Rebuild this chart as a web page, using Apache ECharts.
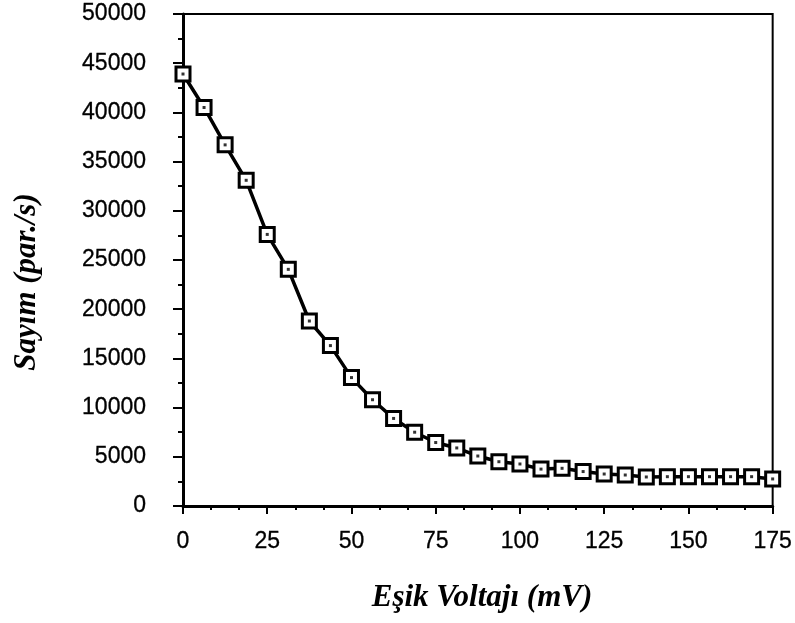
<!DOCTYPE html>
<html>
<head>
<meta charset="utf-8">
<script src="https://cdn.jsdelivr.net/npm/echarts@6/dist/echarts.min.js"></script>
<style>
  html, body { margin: 0; padding: 0; background: #fff; }
  #chart { width: 795px; height: 623px; }
</style>
</head>
<body>
<div id="chart"></div>
<script>
// Eşik voltajı (mV), 6.25 mV adımlarla
var voltages = [0, 6.25, 12.5, 18.75, 25, 31.25, 37.5, 43.75, 50, 56.25,
  62.5, 68.75, 75, 81.25, 87.5, 93.75, 100, 106.25, 112.5, 118.75,
  125, 131.25, 137.5, 143.75, 150, 156.25, 162.5, 168.75, 175]
// Sayım (par./s)
var counts = [43900, 40500, 36700, 33100, 27600, 24050, 18800, 16300, 13050, 10800,
  8900, 7500, 6450, 5900, 5080, 4500, 4270, 3750, 3830, 3500,
  3250, 3150, 2950, 2980, 2980, 2980, 2980, 2980, 2750]

var xTicks = [0, 25, 50, 75, 100, 125, 150, 175]
var yTicks = [0, 5000, 10000, 15000, 20000, 25000, 30000, 35000, 40000, 45000, 50000]

var points = voltages.map(function (v, i) { return [v, counts[i]] })

var labelStyle = {
  color: '#000',
  fontFamily: 'Liberation Sans',
  fontSize: 23,
  textBorderColor: '#000',
  textBorderWidth: 0.3
}

var chart = echarts.init(document.getElementById('chart'))

chart.setOption({
  animation: false,
  grid: {
    left: 183,
    right: 22,
    top: 14,
    bottom: 117,
    show: true,
    borderColor: '#000',
    borderWidth: 2
  },
  xAxis: {
    type: 'value',
    min: xTicks[0],
    max: xTicks[xTicks.length - 1],
    interval: 25,
    axisLine: { lineStyle: { color: '#000', width: 3 } },
    axisTick: { length: 8, lineStyle: { color: '#000', width: 2 } },
    minorTick: { show: true, splitNumber: 3, length: 4, lineStyle: { color: '#000', width: 2 } },
    splitLine: { show: false },
    axisLabel: Object.assign({ margin: 24, formatter: function (v) { return String(v) } }, labelStyle)
  },
  yAxis: {
    type: 'value',
    min: yTicks[0],
    max: yTicks[yTicks.length - 1],
    interval: 5000,
    axisLine: { show: true, lineStyle: { color: '#000', width: 3 } },
    axisTick: { show: true, length: 10, lineStyle: { color: '#000', width: 2 } },
    minorTick: { show: true, splitNumber: 2, length: 5, lineStyle: { color: '#000', width: 2 } },
    splitLine: { show: false },
    axisLabel: Object.assign({ margin: 37, formatter: function (v) { return String(v) } }, labelStyle)
  },
  graphic: [
    {
      type: 'text',
      x: 482,
      y: 598,
      style: {
        text: 'Eşik Voltajı (mV)',
        font: 'italic bold 31px "Liberation Serif"',
        fill: '#000',
        textAlign: 'center',
        textVerticalAlign: 'middle'
      }
    },
    {
      type: 'text',
      x: 27,
      y: 282,
      rotation: Math.PI / 2,
      style: {
        text: 'Sayım (par./s)',
        font: 'italic bold 31px "Liberation Serif"',
        fill: '#000',
        textAlign: 'center',
        textVerticalAlign: 'middle'
      }
    }
  ],
  series: [
    {
      type: 'line',
      data: points,
      symbol: 'rect',
      symbolSize: 14,
      showAllSymbol: true,
      lineStyle: { color: '#000', width: 3.5 },
      itemStyle: { color: '#fff', borderColor: '#000', borderWidth: 3 },
      z: 3
    },
    {
      type: 'scatter',
      data: points,
      symbol: 'rect',
      symbolSize: 3,
      itemStyle: { color: '#000' },
      z: 4
    }
  ]
})
</script>
</body>
</html>
